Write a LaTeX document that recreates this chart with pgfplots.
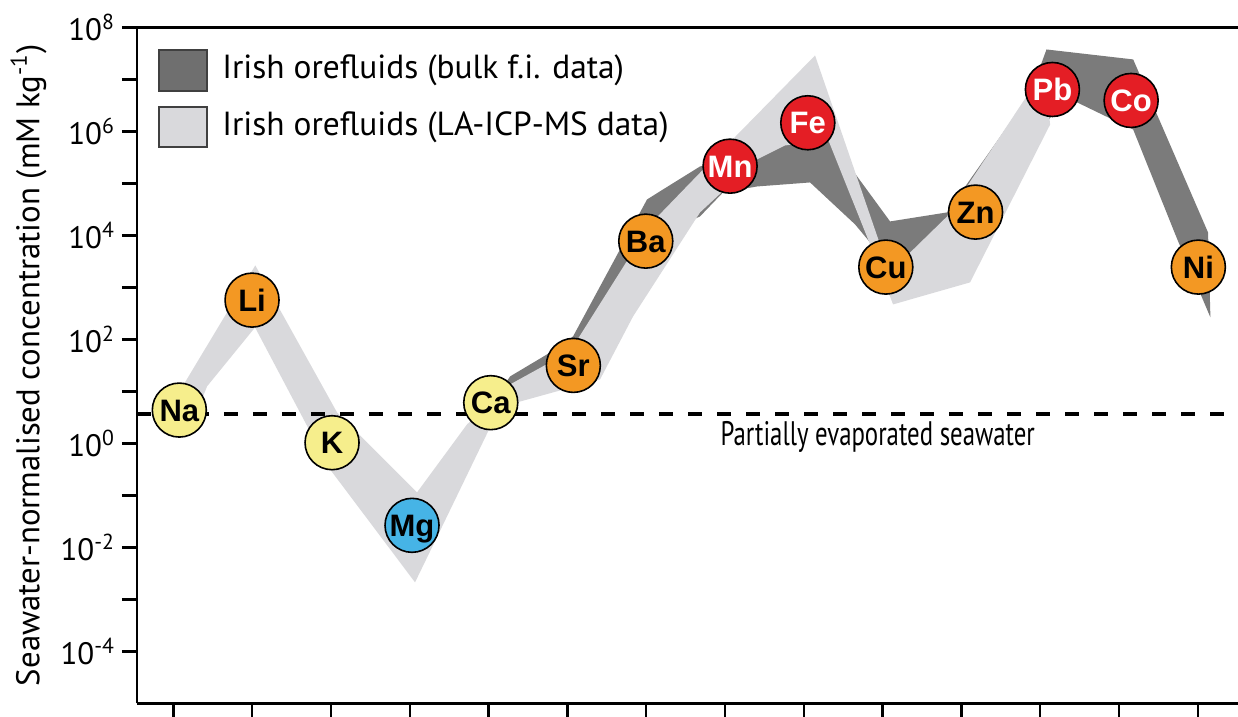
\documentclass[border=0pt]{standalone}
\usepackage{fontspec}
\setmainfont{PT Sans}
\newfontfamily\condfont[FakeStretch=0.73]{PT Sans}
\newfontfamily\circfont{Liberation Sans}
\usepackage{pgfplots}
\pgfplotsset{compat=1.18}
\definecolor{cyellow}{RGB}{246,238,140}
\definecolor{corange}{RGB}{243,152,35}
\definecolor{cred}{RGB}{228,30,37}
\definecolor{cblue}{RGB}{70,180,230}
\definecolor{bdark}{RGB}{123,123,123}
\definecolor{blight}{RGB}{217,217,220}
\begin{document}
\begin{tikzpicture}
\begin{axis}[
  scale only axis, width=550.5pt, height=337.9pt,
  xmin=-0.461, xmax=13.51, ymin=1e-5, ymax=1e8, ymode=log,
  axis x line*=box, axis y line*=left,
  axis line style={line width=1.3pt},
  tick style={line width=1.2pt, black},
  major tick length=7.5pt, minor tick length=7.5pt,
  tick align=outside,
  xtick={0,...,13}, xticklabels={}, xtick pos=left,
  ytick={1e-4,1e-2,1,1e2,1e4,1e6,1e8},
  minor ytick={1e-3,1e-1,1e1,1e3,1e5,1e7},
  yticklabels={10\textsuperscript{-4},10\textsuperscript{-2},10\textsuperscript{0},10\textsuperscript{2},10\textsuperscript{4},10\textsuperscript{6},10\textsuperscript{8}},
  yticklabel style={font=\fontsize{15.5}{15.5}\selectfont},
  ylabel={Seawater-normalised concentration (mM kg\textsuperscript{-1})},
  every axis y label/.style={at={(axis description cs:-0.0985,0.5)}, anchor=center, rotate=90, font=\fontsize{16.4}{16.4}\selectfont},
]
\coordinate (BL) at (rel axis cs:0,0);
\coordinate (TR) at (rel axis cs:1,1);
% bulk f.i. data band
\addplot[fill=bdark, draw=none] coordinates {
 (4.146,10.0) (4.273,19.4) (4.742,51.5) (5.072,114) (6.011,49200) (6.214,76700)
 (6.683,212000) (7.445,451000) (7.953,875000) (8.334,702000) (9.095,18600)
 (9.817,27700) (10.87,5.15e6) (11.08,3.78e7) (12.18,2.43e7) (13.13,11400) (13.16,265)
 (12.74,8380) (12.18,1.09e6) (11.47,3.61e6) (11.13,1.86e6) (9.983,16300)
 (9.767,18600) (9.564,6140) (9.386,4710) (8.968,4310) (8.651,16300) (8.080,104500)
 (7.407,87500) (6.975,67100) (6.683,23200) (6.049,8380) (5.415,41.2) (4.907,24.2) (4.273,10.0)
};
% LA-ICP-MS data band
\addplot[fill=blight, draw=none] coordinates {
 (-0.02,5.62) (1.04,2650) (2.077,3.95) (3.093,0.1143) (3.727,2.32) (4.273,13.6)
 (5.034,58.8) (6.049,16300) (6.748,203000) (8.143,2.9e7) (8.968,6710) (9.286,3780)
 (9.819,23200) (10.91,7.33e6) (11.06,1e7)
 (11.126,1.36e6) (10.11,1250) (9.133,471) (8.816,8380) (8.308,702000) (7.762,538000)
 (7.407,290000) (6.683,27700) (5.834,277) (5.415,17.0) (4.362,6.15) (4.019,2.03)
 (3.473,0.0394) (3.067,0.00212) (1.989,0.316) (1.037,170) (0.428,12.5) (0.212,1.86)
};
% partially evaporated seawater
\addplot[black, line width=2pt, dash pattern=on 7pt off 7.5pt] coordinates {(-0.461,3.61) (13.51,3.61)};
\node[anchor=base west, inner sep=0pt, font=\condfont\fontsize{17}{17}\selectfont] at (axis cs:6.94,0.915) {Partially evaporated seawater};
% element circles
\pgfplotsset{circ/.style={only marks, mark=*, mark size=13.5pt,
  mark options={fill=#1, draw=black, line width=0.8pt},
  point meta=explicit symbolic, nodes near coords, nodes near coords align={anchor=base},
  every node near coord/.append style={font=\circfont\bfseries\fontsize{15.5}{15.5}\selectfont, inner sep=0pt, yshift=-5.5pt}}}
\addplot[circ=cyellow] table[meta=label] {
x y label
0.076 4.37 Na
2.014 1.03 K
4.028 6.07 Ca
};
\addplot[circ=corange] table[meta=label] {
x y label
0.999 570 Li
5.076 31.6 Sr
5.995 7770 Ba
9.041 2460 Cu
10.18 28100 Zn
13.007 2460 Ni
};
\addplot[circ=cblue] table[meta=label] {
x y label
3.029 0.0265 Mg
};
\addplot[circ=cred, every node near coord/.append style={text=white}] table[meta=label] {
x y label
7.065 215000 Mn
8.051 1.47e6 Fe
11.155 6.42e6 Pb
12.154 3.95e6 Co
};
% legend
\draw[fill=bdark!90!black, draw=black!75, line width=0.7pt] (rel axis cs:0.0200,0.9060) rectangle (rel axis cs:0.0636,0.9667);
\draw[fill=blight, draw=black!75, line width=0.7pt] (rel axis cs:0.0200,0.8231) rectangle (rel axis cs:0.0636,0.8823);
\node[anchor=west, inner sep=0pt, font=\fontsize{16.7}{16.7}\selectfont] at (rel axis cs:0.0772,0.9364) {Irish orefluids (bulk f.i. data)};
\node[anchor=west, inner sep=0pt, font=\fontsize{16.7}{16.7}\selectfont] at (rel axis cs:0.0772,0.8528) {Irish orefluids (LA-ICP-MS data)};
\end{axis}
\pgfresetboundingbox
\path[use as bounding box] ([xshift=-68.5pt,yshift=-6.85pt]BL) rectangle ([yshift=13.75pt]TR);
\end{tikzpicture}
\end{document}
